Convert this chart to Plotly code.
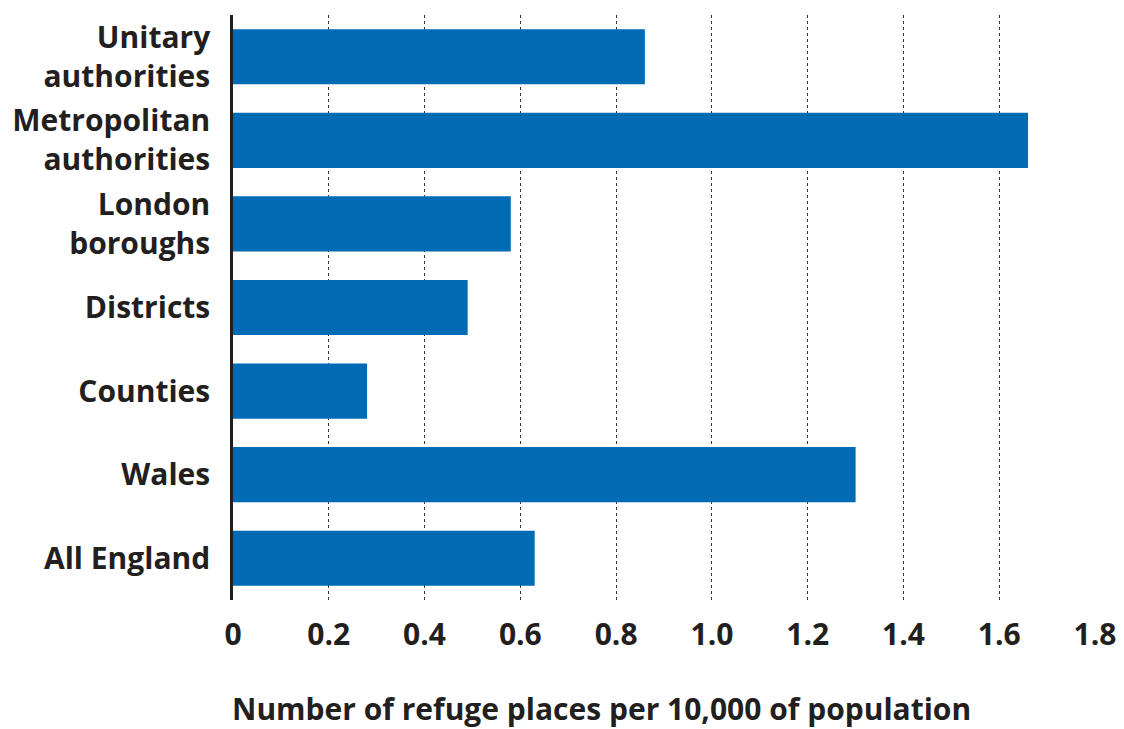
import plotly.graph_objects as go

categories = ["Unitary<br>authorities", "Metropolitan<br>authorities", "London<br>boroughs",
              "Districts", "Counties", "Wales", "All England"]
values = [0.86, 1.66, 0.58, 0.49, 0.28, 1.30, 0.63]
x_ticks = [0, 0.2, 0.4, 0.6, 0.8, 1.0, 1.2, 1.4, 1.6, 1.8]
x_tick_labels = ["0", "0.2", "0.4", "0.6", "0.8", "1.0", "1.2", "1.4", "1.6", "1.8"]
x_title = "Number of refuge places per 10,000 of population"

TEXT = "#231f20"
FONT = "Open Sans"
FS = 30
W, H = 1124, 729
ML, MR, MT, MB = 233, 28, 15, 129

fig = go.Figure(go.Bar(
    x=values, y=categories, orientation="h",
    marker=dict(color="#006bb5", line=dict(width=0)),
    width=0.66, hoverinfo="x",
))

fig.update_layout(
    width=W, height=H,
    margin=dict(l=ML, r=MR, t=MT, b=MB, autoexpand=False),
    paper_bgcolor="white", plot_bgcolor="white",
    font=dict(family=FONT, size=FS, color=TEXT, weight=700),
    showlegend=False,
    xaxis=dict(
        range=[0, 1.802], tickvals=x_ticks, ticktext=x_tick_labels,
        showgrid=True, gridcolor="#333333", gridwidth=1.3, griddash="dot",
        zeroline=False, showline=False, ticks="", automargin=False,
        ticklabelstandoff=14,
        tickfont=dict(family=FONT, size=FS, color=TEXT, weight=700),
    ),
    yaxis=dict(
        categoryorder="array", categoryarray=categories, autorange="reversed",
        showgrid=False, zeroline=False, automargin=False,
        showline=True, linecolor="#231f20", linewidth=2.5,
        ticks="", ticklabelstandoff=14,
        tickfont=dict(family=FONT, size=FS, color=TEXT, weight=700),
    ),
    annotations=[dict(
        text=x_title, xref="paper", yref="paper",
        x=(601 - ML) / (W - ML - MR), y=-(708 - (H - MB)) / (H - MT - MB),
        xanchor="center", yanchor="middle", showarrow=False,
        font=dict(family=FONT, size=FS, color=TEXT, weight=700),
    )],
)

fig.write_html("out.html", config={"displayModeBar": False},
               post_script="document.body.style.margin='0';document.body.style.overflow='hidden';")
